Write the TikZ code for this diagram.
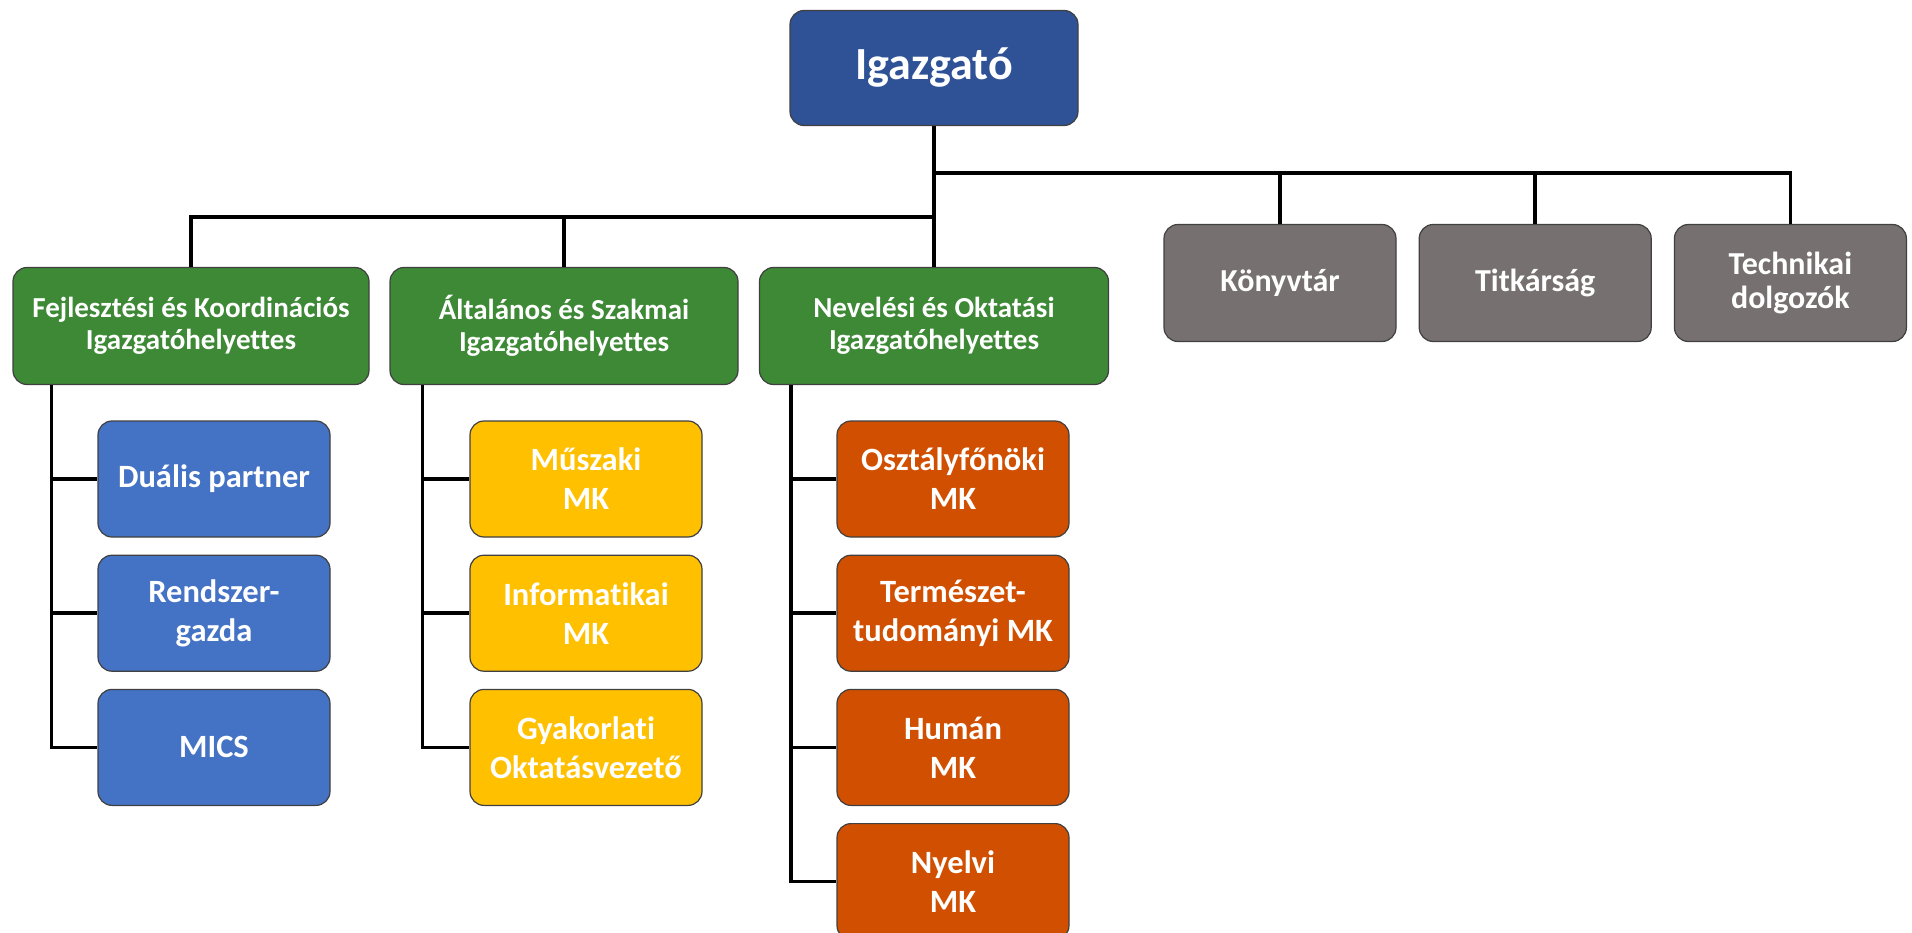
\documentclass[tikz,border=0pt]{standalone}
\usepackage{fontspec}
\setmainfont{Carlito}[Ligatures=NoCommon]
\usetikzlibrary{positioning}
\definecolor{headblue}{RGB}{47,82,150}
\definecolor{deputygreen}{RGB}{61,137,54}
\definecolor{teamblue}{RGB}{68,114,196}
\definecolor{teamyellow}{RGB}{255,192,0}
\definecolor{teamorange}{RGB}{209,79,0}
\definecolor{staffgray}{RGB}{118,112,112}
\tikzset{orgbox/.style={draw=black!75, line width=1.2pt, fill=#1, rounded corners=14pt, text=white, align=center, inner sep=0pt}}
\tikzset{deputy/.style={orgbox=deputygreen, minimum width=349pt, minimum height=117pt, font=\bfseries\fontsize{29}{32}\selectfont}}
\tikzset{unit/.style={orgbox=#1, minimum width=232pt, minimum height=116pt, font=\bfseries\fontsize{32.5}{39}\selectfont}}
\tikzset{staff/.style={orgbox=staffgray, minimum width=232pt, minimum height=117pt, font=\bfseries\fontsize{32}{34}\selectfont}}
\tikzset{link/.style={line width=3.5pt}}

\begin{document}
\begin{tikzpicture}[x=1pt, y=-1pt]
\useasboundingbox (0,0) rectangle (1912,933);

\node[orgbox=headblue, minimum width=288pt, minimum height=115pt, font=\bfseries\fontsize{46}{52}\selectfont] (igazgato) at (934,68) {Igazgató};

% helyettesek
\node[deputy, minimum width=356pt] (fejlesztesi) at (191,326) {Fejlesztési és Koordinációs\\Igazgatóhelyettes};
\node[deputy, minimum width=348pt] (altalanos) at (564,326) {Általános és Szakmai\\Igazgatóhelyettes};
\node[deputy] (nevelesi) at (934,326) {Nevelési és Oktatási\\Igazgatóhelyettes};

\node[staff] (konyvtar) at (1280,283) {Könyvtár};
\node[staff, right=22pt of konyvtar] (titkarsag) {Titkárság};
\node[staff, right=22pt of titkarsag] (technikai) {Technikai\\dolgozók};

% munkakozossegek
\node[unit=teamblue] (dualis) at (214,479) {Duális partner};
\node[unit=teamblue, below=17pt of dualis] (rendszer) {Rendszer-\\gazda};
\node[unit=teamblue, below=17pt of rendszer] (mics) {MICS};

\node[unit=teamyellow] (muszaki) at (586,479) {Műszaki\\MK};
\node[unit=teamyellow, below=17pt of muszaki] (informatikai) {Informatikai\\MK};
\node[unit=teamyellow, below=17pt of informatikai] (gyakorlati) {Gyakorlati\\Oktatásvezető};

\node[unit=teamorange] (osztalyfonoki) at (953,479) {Osztályfőnöki\\MK};
\node[unit=teamorange, below=17pt of osztalyfonoki] (termeszet) {Természet-\\tudományi MK};
\node[unit=teamorange, below=17pt of termeszet] (human) {Humán\\MK};
\node[unit=teamorange, below=17pt of human] (nyelvi) {Nyelvi\\MK};

\coordinate (upperbus) at (0,173);
\coordinate (lowerbus) at (0,217);
\draw[link] (igazgato.south) -- (nevelesi.north);
\draw[link] (igazgato.south |- upperbus) -| (technikai.north);
\draw[link] (konyvtar.north |- upperbus) -- (konyvtar.north);
\draw[link] (titkarsag.north |- upperbus) -- (titkarsag.north);
\draw[link] (igazgato.south |- lowerbus) -| (fejlesztesi.north);
\draw[link] (altalanos.north |- lowerbus) -- (altalanos.north);

\coordinate (fejlbus) at ([xshift=39pt]fejlesztesi.south west);
\draw[link] (fejlbus) |- (mics.west);
\draw[link] (fejlbus |- dualis.west) -- (dualis.west);
\draw[link] (fejlbus |- rendszer.west) -- (rendszer.west);

\coordinate (altbus) at ([xshift=33pt]altalanos.south west);
\draw[link] (altbus) |- (gyakorlati.west);
\draw[link] (altbus |- muszaki.west) -- (muszaki.west);
\draw[link] (altbus |- informatikai.west) -- (informatikai.west);

\coordinate (nevbus) at ([xshift=32pt]nevelesi.south west);
\draw[link] (nevbus) |- (nyelvi.west);
\draw[link] (nevbus |- osztalyfonoki.west) -- (osztalyfonoki.west);
\draw[link] (nevbus |- termeszet.west) -- (termeszet.west);
\draw[link] (nevbus |- human.west) -- (human.west);
\end{tikzpicture}
\end{document}
